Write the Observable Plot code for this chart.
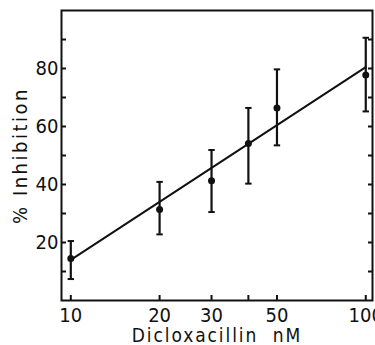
<!DOCTYPE html>
<html><head><meta charset="utf-8">
<script src="https://cdn.jsdelivr.net/npm/d3@7"></script>
<script src="https://cdn.jsdelivr.net/npm/@observablehq/plot@0.6"></script>
<style>body{margin:0;background:#fff}</style>
</head><body><div id="chart"></div>
<script>
const conc = [10, 20, 30, 40, 50, 100];
const inhibition = [14.5, 31.4, 41.3, 54.1, 66.4, 77.8];
const errLow = [7.4, 22.8, 30.5, 40.3, 53.5, 65.2];
const errHigh = [20.5, 40.9, 51.9, 66.4, 79.7, 90.6];
const fitX = [10, 100];
const fitY = [14, 80.5];
const xTicks = [10, 20, 30, 40, 50, 100];
const xTickLabels = [10, 20, 30, 50, 100];
const yTicks = [10, 20, 30, 40, 50, 60, 70, 80, 90];
const yTickLabels = [20, 40, 60, 80];
const xTitle = "Dicloxacillin  nM";
const yTitle = "% Inhibition";

const data = conc.map((c, i) => ({c, y: inhibition[i], lo: errLow[i], hi: errHigh[i]}));
const fit = fitX.map((x, i) => ({x, y: fitY[i]}));
const cap = {draw(ctx, size) { const w = 3.2; ctx.moveTo(-w, 0); ctx.lineTo(w, 0); }};
const font = "'DejaVu Sans Condensed', 'DejaVu Sans', sans-serif";
const ink = "#111";

const chart = Plot.plot({
  width: 375, height: 345,
  marginLeft: 61, marginRight: 3, marginTop: 10, marginBottom: 45,
  style: {fontFamily: font, fontSize: "20px", color: ink, background: "#fff"},
  x: {type: "log", domain: [9.3, 105.4]},
  y: {domain: [0, 100]},
  marks: [
    Plot.axisY({ticks: yTicks, tickSize: -5, tickFormat: () => "", strokeWidth: 2, label: null}),
    Plot.axisY({anchor: "right", ticks: yTicks, tickSize: -5, tickFormat: () => "", strokeWidth: 2, label: null}),
    Plot.axisY({ticks: yTickLabels, tickSize: 0, tickPadding: 3, label: null}),
    Plot.axisX({ticks: xTicks, tickSize: -5, tickFormat: () => "", strokeWidth: 2, label: null}),
    Plot.axisX({ticks: xTickLabels, tickSize: 0, tickPadding: 7, tickFormat: d => String(d), label: null}),
    Plot.frame({stroke: ink, strokeWidth: 2}),
    Plot.line(fit, {x: "x", y: "y", stroke: ink, strokeWidth: 2}),
    Plot.ruleX(data, {x: "c", y1: "lo", y2: "hi", stroke: ink, strokeWidth: 2.2}),
    Plot.dot(data, {x: "c", y: "lo", symbol: cap, fill: "none", stroke: ink, strokeWidth: 2}),
    Plot.dot(data, {x: "c", y: "hi", symbol: cap, fill: "none", stroke: ink, strokeWidth: 2}),
    Plot.dot(data, {x: "c", y: "y", r: 3.5, fill: ink, stroke: "none"}),
    Plot.text([xTitle], {frameAnchor: "bottom", textAnchor: "middle", dx: 0, dy: 41, lineAnchor: "bottom", text: d => d, fontSize: 19, fill: ink}),
    Plot.text([yTitle], {frameAnchor: "left", textAnchor: "middle", dx: -41, rotate: -90, lineAnchor: "middle", text: d => d, fontSize: 20, fill: ink})
  ]
});
d3.select(chart).selectAll("text").each(function() {
  const t = this.textContent;
  if (t === xTitle) this.style.letterSpacing = "1.9px";
  if (t === yTitle) this.style.letterSpacing = "2.5px";
});
document.getElementById("chart").appendChild(chart);
</script></body></html>
